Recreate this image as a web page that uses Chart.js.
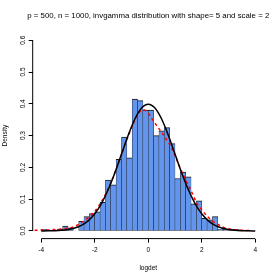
<!DOCTYPE html>
<html>
<head>
<meta charset="utf-8">
<script src="https://cdn.jsdelivr.net/npm/chart.js@4/dist/chart.umd.min.js"></script>
<style>
  html, body { margin: 0; padding: 0; background: #fff; }
  #wrap { width: 280px; height: 280px; }
</style>
</head>
<body>
<div id="wrap"><canvas id="c" width="280" height="280"></canvas></div>
<script>
// ---- data ----
const titleText = 'p = 500, n = 1000, invgamma distribution with shape= 5 and scale = 2';
const xAxisTitle = 'logdet';
const yAxisTitle = 'Density';

// histogram bin edges (width 0.2) and densities
const breaks = [-4,-3.8,-3.6,-3.4,-3.2,-3,-2.8,-2.6,-2.4,-2.2,-2,-1.8,-1.6,-1.4,-1.2,-1,-0.8,-0.6,-0.4,-0.2,0,
                0.2,0.4,0.6,0.8,1,1.2,1.4,1.6,1.8,2,2.2,2.4,2.6,2.8,3,3.2,3.4,3.6,3.8,4];
const histDensity = [0.005,0,0,0.005,0.015,0.01,0,0.03,0.045,0.055,0.06,0.09,0.16,0.145,0.225,0.295,0.23,0.415,0.41,0.38,
                     0.38,0.30,0.315,0.325,0.275,0.165,0.185,0.17,0.085,0.095,0.04,0.035,0.045,0.005,0.005,0.005,0.005,0,0,0];

// kernel density estimate (red dashed)
const kdeX = [-4.25,-4.0,-3.8,-3.6,-3.4,-3.2,-3.0,-2.8,-2.6,-2.4,-2.2,-2.0,-1.8,-1.6,-1.4,-1.2,-1.0,-0.8,-0.6,-0.4,-0.2,
              0,0.2,0.4,0.6,0.8,1.0,1.2,1.4,1.6,1.8,2.0,2.2,2.4,2.6,2.8,3.0,3.2,3.4,3.6,3.8];
const kdeY = [0.002,0.003,0.003,0.004,0.005,0.007,0.009,0.013,0.021,0.032,0.045,0.062,0.085,0.115,0.152,0.194,0.24,0.287,0.33,0.365,0.382,
              0.37,0.345,0.322,0.298,0.272,0.238,0.196,0.16,0.127,0.09,0.067,0.047,0.031,0.021,0.012,0.007,0.004,0.003,0.002,0.001];

// reference density curve (black solid)
const curveX = [-4,-3.75,-3.5,-3.25,-3,-2.75,-2.5,-2.25,-2,-1.75,-1.5,-1.25,-1,-0.75,-0.5,-0.25,
                0,0.25,0.5,0.75,1,1.25,1.5,1.75,2,2.25,2.5,2.75,3,3.25,3.5,3.75,4];
const curveY = [0.0001,0.0004,0.0009,0.002,0.0044,0.0091,0.0175,0.0317,0.054,0.0863,0.1295,0.1826,0.242,0.3011,0.3521,0.3867,
                0.3989,0.3867,0.3521,0.3011,0.242,0.1826,0.1295,0.0863,0.054,0.0317,0.0175,0.0091,0.0044,0.002,0.0009,0.0004,0.0001];

// axis ticks
const xTicks = [-4,-2,0,2,4];
const xTickLabels = ['-4','-2','0','2','4'];
const yTicks = [0,0.1,0.2,0.3,0.4,0.5,0.6];
const yTickLabels = ['0.0','0.1','0.2','0.3','0.4','0.5','0.6'];

// ---- chart ----
const FONT = "'Liberation Sans', Arial, Helvetica, sans-serif";
const barPoints = histDensity.map((d, i) => ({ x: (breaks[i] + breaks[i + 1]) / 2, y: d }));
const kdePoints = kdeX.map((x, i) => ({ x, y: kdeY[i] }));
const curvePoints = curveX.map((x, i) => ({ x, y: curveY[i] }));

const axisLinesAndTitle = {
  id: 'axisLinesAndTitle',
  afterDraw(chart) {
    const { ctx, chartArea, scales: { x, y } } = chart;
    ctx.save();
    ctx.strokeStyle = '#000';
    ctx.lineWidth = 1;
    ctx.beginPath();
    ctx.moveTo(x.getPixelForValue(xTicks[0]), chartArea.bottom);
    ctx.lineTo(x.getPixelForValue(xTicks[xTicks.length - 1]), chartArea.bottom);
    ctx.moveTo(chartArea.left, y.getPixelForValue(yTicks[0]));
    ctx.lineTo(chartArea.left, y.getPixelForValue(yTicks[yTicks.length - 1]));
    ctx.stroke();
    // main title, centred over the plot region (no width compression)
    ctx.fillStyle = '#000';
    ctx.font = '7.85px ' + FONT;
    ctx.textAlign = 'center';
    ctx.textBaseline = 'middle';
    ctx.fillText(titleText, (chartArea.left + chartArea.right) / 2, chartArea.top - 16.6);
    ctx.restore();
  }
};

new Chart(document.getElementById('c'), {
  type: 'bar',
  data: {
    datasets: [
      { type: 'line', data: curvePoints, borderColor: '#000', borderWidth: 1.5, pointRadius: 0,
        cubicInterpolationMode: 'monotone', fill: false, order: 1 },
      { type: 'line', data: kdePoints, borderColor: '#ff0000', borderWidth: 1.5, borderDash: [3, 3], pointRadius: 0,
        cubicInterpolationMode: 'monotone', fill: false, order: 2 },
      { type: 'bar', data: barPoints, backgroundColor: '#6495ED', borderColor: '#1a1a1a',
        borderWidth: { top: 1, left: 0.5, right: 0.5, bottom: 0.5 }, borderSkipped: false,
        barPercentage: 1, categoryPercentage: 1, order: 3 }
    ]
  },
  options: {
    responsive: false, animation: false, devicePixelRatio: 1,
    layout: { padding: { top: 32.6, left: 0, right: 16.2, bottom: 0 } },
    plugins: {
      legend: { display: false },
      tooltip: { enabled: false },
      title: { display: false }
    },
    scales: {
      x: {
        type: 'linear', min: -4.32, max: 4.32, offset: false,
        afterBuildTicks: s => { s.ticks = xTicks.map(v => ({ value: v })); },
        afterFit: s => { s.height = 41.4; },
        grid: { offset: false, drawOnChartArea: false, drawTicks: true, tickLength: 4, color: '#000', lineWidth: 1 },
        border: { display: false },
        ticks: { autoSkip: false, maxRotation: 0, minRotation: 0, padding: 4, color: '#000',
                 font: { family: FONT, size: 6.5 }, callback: (v, i) => xTickLabels[i] },
        title: { display: true, text: xAxisTitle, color: '#000', font: { family: FONT, size: 6.5 },
                 padding: { top: 0, bottom: 8.1 } }
      },
      y: {
        type: 'linear', min: -0.024, max: 0.624,
        afterBuildTicks: s => { s.ticks = yTicks.map(v => ({ value: v })); },
        afterFit: s => { s.width = 32.7; },
        grid: { drawOnChartArea: false, drawTicks: true, tickLength: 4, color: '#000', lineWidth: 1 },
        border: { display: false },
        ticks: { autoSkip: false, minRotation: 90, maxRotation: 90, crossAlign: 'center', padding: 0.7,
                 color: '#000', font: { family: FONT, size: 6.5 }, callback: (v, i) => yTickLabels[i] },
        title: { display: true, text: yAxisTitle, color: '#000', font: { family: FONT, size: 6.5 },
                 padding: { top: 1.8, bottom: 0 } }
      }
    }
  },
  plugins: [axisLinesAndTitle]
});
</script>
</body>
</html>
